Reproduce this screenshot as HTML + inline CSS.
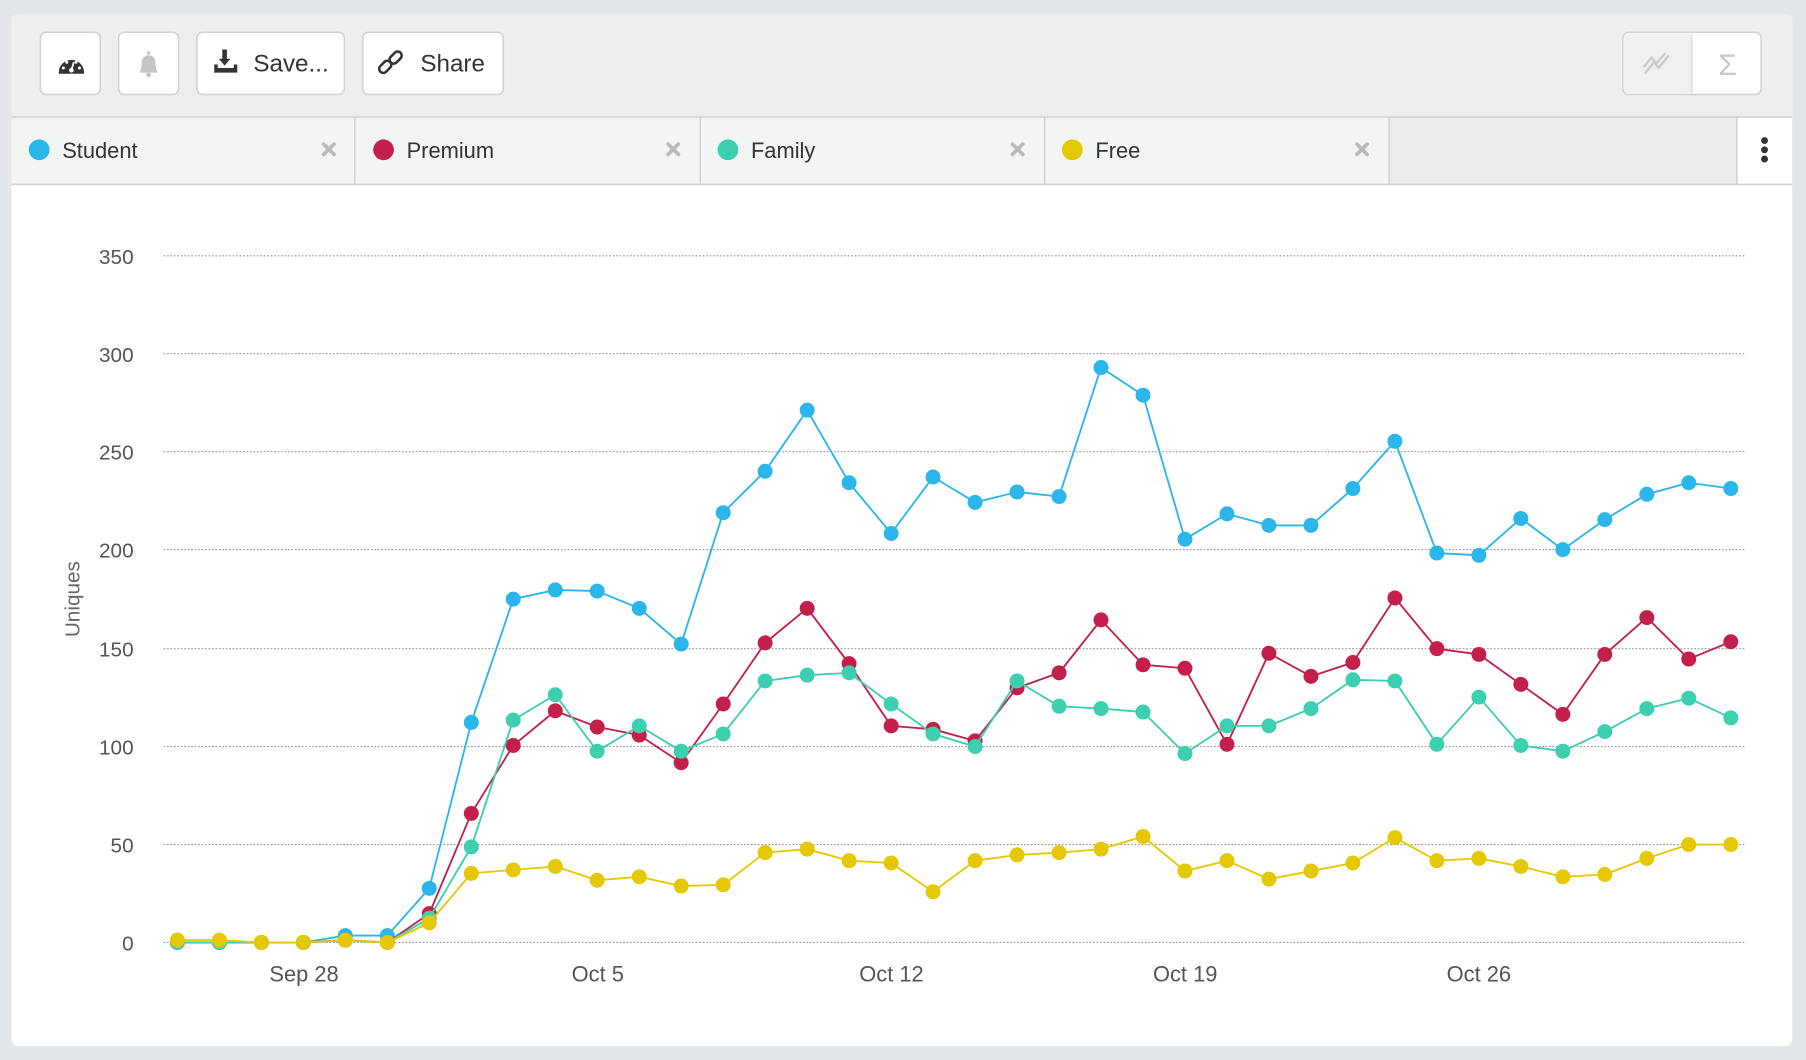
<!DOCTYPE html>
<html><head><meta charset="utf-8"><style>
html,body{margin:0;padding:0;background:#e3e6ea;}
svg{display:block;}
text{font-family:"Liberation Sans",sans-serif;}
</style></head><body>
<svg width="1806" height="1060" viewBox="0 0 1568 920" preserveAspectRatio="none" xmlns="http://www.w3.org/2000/svg">
<defs>
<marker id="mS" viewBox="-7 -7 14 14" markerWidth="14" markerHeight="14" markerUnits="userSpaceOnUse" refX="0" refY="0"><circle r="6.5" fill="#2ab6ea"/></marker>
<marker id="mP" viewBox="-7 -7 14 14" markerWidth="14" markerHeight="14" markerUnits="userSpaceOnUse" refX="0" refY="0"><circle r="6.5" fill="#c2204a"/></marker>
<marker id="mF" viewBox="-7 -7 14 14" markerWidth="14" markerHeight="14" markerUnits="userSpaceOnUse" refX="0" refY="0"><circle r="6.5" fill="#3ccfb0"/></marker>
<marker id="mY" viewBox="-7 -7 14 14" markerWidth="14" markerHeight="14" markerUnits="userSpaceOnUse" refX="0" refY="0"><circle r="6.5" fill="#e6c800"/></marker>
<clipPath id="half"><rect x="48" y="44" width="28" height="20"/></clipPath>
</defs>
<rect x="0" y="0" width="1568" height="920" fill="#e3e6ea"/>
<rect x="10" y="12" width="1546" height="896" rx="6" fill="#ffffff"/>
<path d="M10 101 V18 a6 6 0 0 1 6 -6 H1550 a6 6 0 0 1 6 6 V101 Z" fill="#eceef0"/>
<g fill="#ffffff" stroke="#cfd1d3" stroke-width="1.3">
<rect x="35" y="28" width="52" height="54" rx="5"/>
<rect x="103" y="28" width="52" height="54" rx="5"/>
<rect x="171" y="28" width="128" height="54" rx="5"/>
<rect x="315" y="28" width="122" height="54" rx="5"/>
<rect x="1409" y="28" width="120" height="54" rx="5"/>
</g>
<rect x="1410" y="29" width="59" height="52" rx="4" fill="#eef0f1"/>
<line x1="1469" y1="29" x2="1469" y2="81" stroke="#d8d9da"/>
<circle cx="62" cy="63" r="11" fill="#333" clip-path="url(#half)"/>
<circle cx="62" cy="61" r="2" fill="#fff"/><line x1="62" y1="61" x2="64" y2="54" stroke="#fff" stroke-width="1.5"/>
<circle cx="55" cy="59" r="1.3" fill="#fff"/><circle cx="58" cy="54" r="1.3" fill="#fff"/><circle cx="66" cy="54" r="1.3" fill="#fff"/><circle cx="69" cy="59" r="1.3" fill="#fff"/>
<path d="M121 63 q2 -3 2 -9 a6 6 0 0 1 12 0 q0 6 2 9 Z" fill="#c4c6c8"/><circle cx="129" cy="65" r="2" fill="#c4c6c8"/><circle cx="129" cy="46" r="1.5" fill="#c4c6c8"/>
<path d="M193 43 h4 v8 h3 l-5 6 -5 -6 h3 Z" fill="#333"/><path d="M186 56 v7 h20 v-7 h-3 v3 h-14 v-3 Z" fill="#333"/>
<text x="220" y="62" font-size="21" fill="#333">Save...</text>
<g fill="none" stroke="#333" stroke-width="2.2"><rect x="331" y="52" width="7" height="12" rx="3.5" transform="rotate(45 334.5 58)"/><rect x="340" y="44" width="7" height="12" rx="3.5" transform="rotate(45 343.5 50)"/></g>
<text x="365" y="62" font-size="21" fill="#333">Share</text>
<path d="M1428 64 l8 -10 4 5 9 -11 M1427 58 l7 -8 4 5 8 -9" fill="none" stroke="#c8cacc" stroke-width="2"/>
<text x="1500" y="65" font-size="26" fill="#c4c6c8" text-anchor="middle" font-family="Liberation Serif">Σ</text>
<rect x="10" y="101" width="1546" height="59" fill="#e9ebed"/>
<rect x="10" y="101" width="1196" height="59" fill="#f3f4f4"/>
<rect x="1508" y="101" width="48" height="59" fill="#ffffff"/>
<g stroke="#cfd0d1" stroke-width="1.3">
<line x1="10" y1="101.5" x2="1556" y2="101.5"/><line x1="10" y1="160" x2="1556" y2="160"/>
<line x1="308" y1="101" x2="308" y2="160"/><line x1="608" y1="101" x2="608" y2="160"/><line x1="907" y1="101" x2="907" y2="160"/><line x1="1206" y1="101" x2="1206" y2="160"/><line x1="1508" y1="101" x2="1508" y2="160"/>
</g>
<circle cx="34" cy="130" r="9" fill="#2ab6ea"/><text x="54" y="137" font-size="19" fill="#333">Student</text>
<circle cx="333" cy="130" r="9" fill="#c2204a"/><text x="353" y="137" font-size="19" fill="#333">Premium</text>
<circle cx="632" cy="130" r="9" fill="#3ccfb0"/><text x="652" y="137" font-size="19" fill="#333">Family</text>
<circle cx="931" cy="130" r="9" fill="#e6c800"/><text x="951" y="137" font-size="19" fill="#333">Free</text>
<g stroke="#b8babc" stroke-width="3.2" stroke-linecap="round">
<path d="M281 125 l9 9 M290 125 l-9 9"/><path d="M580 125 l9 9 M589 125 l-9 9"/><path d="M879 125 l9 9 M888 125 l-9 9"/><path d="M1178 125 l9 9 M1187 125 l-9 9"/>
</g>
<g fill="#333"><circle cx="1532" cy="122" r="3"/><circle cx="1532" cy="130" r="3"/><circle cx="1532" cy="138" r="3"/></g>
<g stroke="#999" stroke-width="1" stroke-dasharray="1.5 1.5">
<line x1="142" y1="222" x2="1516" y2="222"/><line x1="142" y1="307" x2="1516" y2="307"/><line x1="142" y1="392" x2="1516" y2="392"/><line x1="142" y1="477" x2="1516" y2="477"/><line x1="142" y1="563" x2="1516" y2="563"/><line x1="142" y1="648" x2="1516" y2="648"/><line x1="142" y1="733" x2="1516" y2="733"/><line x1="142" y1="818" x2="1516" y2="818"/>
</g>
<g font-size="18" fill="#555" text-anchor="end">
<text x="116" y="229">350</text><text x="116" y="314">300</text><text x="116" y="399">250</text><text x="116" y="484">200</text><text x="116" y="570">150</text><text x="116" y="655">100</text><text x="116" y="740">50</text><text x="116" y="825">0</text>
</g>
<text transform="translate(69 520) rotate(-90)" font-size="18" fill="#666" text-anchor="middle">Uniques</text>
<g font-size="19" fill="#555" text-anchor="middle">
<text x="264" y="852">Sep 28</text><text x="519" y="852">Oct 5</text><text x="774" y="852">Oct 12</text><text x="1029" y="852">Oct 19</text><text x="1284" y="852">Oct 26</text>
</g>
<g fill="none" stroke-width="1.6" stroke-linejoin="round">
<polyline stroke="#2ab6ea" marker-start="url(#mS)" marker-mid="url(#mS)" marker-end="url(#mS)" points="154,818 190.5,818 226.9,818 263.4,818 299.8,812 336.3,812 372.7,771 409.2,627 445.6,520 482.1,512 518.5,513 555,528 591.4,559 627.9,445 664.3,409 700.8,356 737.2,419 773.7,463 810.1,414 846.6,436 883,427 919.5,431 955.9,319 992.4,343 1028.8,468 1065.3,446 1101.7,456 1138.2,456 1174.6,424 1211.1,383 1247.5,480 1284,482 1320.4,450 1356.9,477 1393.3,451 1429.8,429 1466.2,419 1502.7,424"/>
<polyline stroke="#c2204a" marker-start="url(#mP)" marker-mid="url(#mP)" marker-end="url(#mP)" points="154,818 190.5,818 226.9,818 263.4,818 299.8,816 336.3,818 372.7,793 409.2,706 445.6,647 482.1,617 518.5,631 555,638 591.4,662 627.9,611 664.3,558 700.8,528 737.2,576 773.7,630 810.1,633 846.6,643 883,597 919.5,584 955.9,538 992.4,577 1028.8,580 1065.3,646 1101.7,567 1138.2,587 1174.6,575 1211.1,519 1247.5,563 1284,568 1320.4,594 1356.9,620 1393.3,568 1429.8,536 1466.2,572 1502.7,557"/>
<polyline stroke="#3ccfb0" marker-start="url(#mF)" marker-mid="url(#mF)" marker-end="url(#mF)" points="154,818 190.5,818 226.9,818 263.4,818 299.8,816 336.3,818 372.7,797 409.2,735 445.6,625 482.1,603 518.5,652 555,630 591.4,652 627.9,637 664.3,591 700.8,586 737.2,584 773.7,611 810.1,637 846.6,648 883,591 919.5,613 955.9,615 992.4,618 1028.8,654 1065.3,630 1101.7,630 1138.2,615 1174.6,590 1211.1,591 1247.5,646 1284,605 1320.4,647 1356.9,652 1393.3,635 1429.8,615 1466.2,606 1502.7,623"/>
<polyline stroke="#e6c800" marker-start="url(#mY)" marker-mid="url(#mY)" marker-end="url(#mY)" points="154,816 190.5,816 226.9,818 263.4,818 299.8,816 336.3,818 372.7,801 409.2,758 445.6,755 482.1,752 518.5,764 555,761 591.4,769 627.9,768 664.3,740 700.8,737 737.2,747 773.7,749 810.1,774 846.6,747 883,742 919.5,740 955.9,737 992.4,726 1028.8,756 1065.3,747 1101.7,763 1138.2,756 1174.6,749 1211.1,727 1247.5,747 1284,745 1320.4,752 1356.9,761 1393.3,759 1429.8,745 1466.2,733 1502.7,733"/>
</g>
</svg>
</body></html>
